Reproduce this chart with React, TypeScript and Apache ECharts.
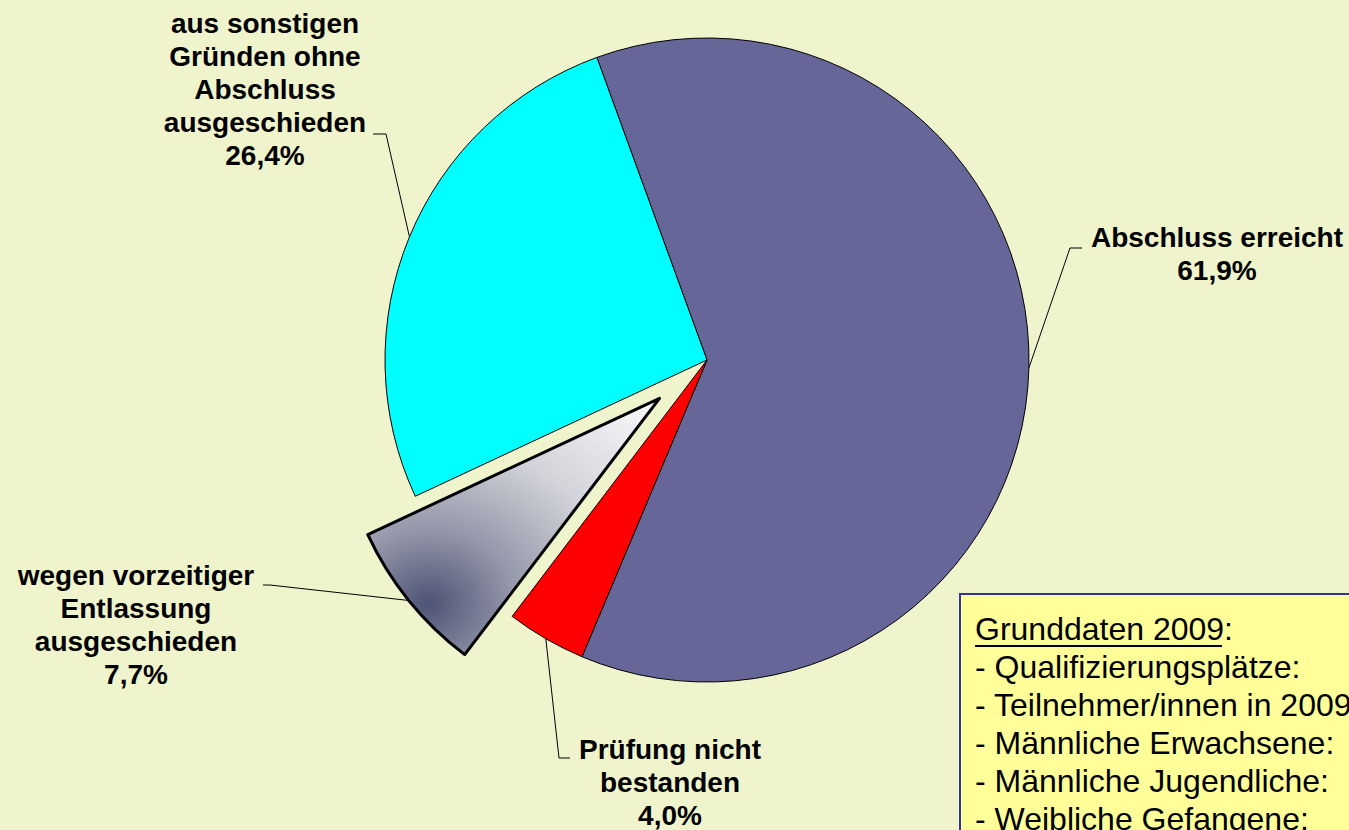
import React, { useEffect, useRef } from "react";
import * as echarts from "echarts";

// ---- data ----
const categories = [
  "Abschluss erreicht",
  "Prüfung nicht\nbestanden",
  "wegen vorzeitiger\nEntlassung\nausgeschieden",
  "aus sonstigen\nGründen ohne\nAbschluss\nausgeschieden",
];
const values = [61.9, 4.0, 7.7, 26.4];
const sliceColors = ["#666699", "#FF0000", "GRADIENT", "#00FFFF"];
const explodedIndex = 2;

const infoTitle = "Grunddaten 2009";
const infoLines = [
  "- Qualifizierungsplätze:",
  "- Teilnehmer/innen in 2009:",
  "- Männliche Erwachsene:",
  "- Männliche Jugendliche:",
  "- Weibliche Gefangene:",
];

// ---- layout ----
const CX = 707;
const CY = 360;
const R = 322;
const START = 110;
const OFFSET = 61;
const FONT = '"Liberation Sans", Arial, sans-serif';

// label anchor (block centre) and label-line bend/end points
const labelPlaces: { x: number; y: number; bend: number[]; end: number[] }[] = [
  { x: 1217, y: 254, bend: [1070, 248], end: [1082, 248] },
  { x: 670, y: 782, bend: [559, 758], end: [570, 758] },
  { x: 136, y: 625, bend: [270, 585], end: [263, 585] },
  { x: 265, y: 89, bend: [386, 134], end: [373, 134] },
];

function midAngles(): number[] {
  const total = values.reduce((a, b) => a + b, 0);
  let a = START;
  return values.map((v) => {
    const span = (v / total) * 360;
    const m = a - span / 2;
    a -= span;
    return m;
  });
}

export default function App() {
  const ref = useRef<HTMLDivElement>(null);
  useEffect(() => {
    if (!ref.current) return;
    const chart = echarts.init(ref.current, undefined, { renderer: "svg" });
    const mids = midAngles();
    const exRad = (mids[explodedIndex] * Math.PI) / 180;
    const ECX = CX + OFFSET * Math.cos(exRad);
    const ECY = CY - OFFSET * Math.sin(exRad);

    const grayFill = {
      type: "radial",
      x: 0.21,
      y: 0.8,
      r: 1.17,
      colorStops: [
        { offset: 0, color: "#4d5375" },
        { offset: 0.25, color: "#9598aa" },
        { offset: 0.55, color: "#d3d4da" },
        { offset: 1, color: "#ffffff" },
      ],
    };

    const hidden = {
      itemStyle: { color: "rgba(0,0,0,0)", borderWidth: 0 },
      label: { show: false },
      labelLine: { show: false },
      tooltip: { show: false },
    };

    // main pie: all slices except the exploded one (kept as invisible gap)
    const mainData = values.map((v, i) =>
      i === explodedIndex
        ? { name: "", value: v, ...hidden, idx: i }
        : {
            name: categories[i],
            value: v,
            idx: i,
            itemStyle: { color: sliceColors[i], borderColor: "#000", borderWidth: 1 },
          }
    );
    // exploded pie: only the exploded slice visible, others invisible placeholders
    const exData = values.map((v, i) =>
      i === explodedIndex
        ? {
            name: categories[i],
            value: v,
            idx: i,
            itemStyle: { color: grayFill as any, borderColor: "#000", borderWidth: 3 },
          }
        : { name: "", value: v, ...hidden, idx: i }
    );

    const labelCommon = {
      show: true,
      position: "outside",
      formatter: (p: any) =>
        categories[p.dataIndex] + "\n" + p.value.toFixed(1).replace(".", ",") + "%",
      fontFamily: FONT,
      fontWeight: "bold",
      fontSize: 28,
      lineHeight: 33,
      color: "#000",
      align: "center",
    };

    const makeLayout = (cx: number, cy: number) => (params: any) => {
      const i = params.dataIndex;
      const lp = labelPlaces[i];
      const rad = (mids[i] * Math.PI) / 180;
      const sx = cx + R * Math.cos(rad);
      const sy = cy - R * Math.sin(rad);
      return {
        x: lp.x,
        y: lp.y,
        align: "center",
        verticalAlign: "middle",
        labelLinePoints: [[sx, sy], lp.bend, lp.end],
      };
    };

    const pieCommon = {
      type: "pie",
      radius: R,
      startAngle: START,
      clockwise: true,
      avoidLabelOverlap: false,
      selectedMode: false,
      emphasis: { scale: false, disabled: true },
      label: labelCommon,
      labelLine: { show: true, lineStyle: { color: "#000", width: 1 } },
    };

    chart.setOption({
      animation: false,
      backgroundColor: "#EFF4CC",
      series: [
        {
          ...pieCommon,
          center: [CX, CY],
          labelLayout: makeLayout(CX, CY),
          data: mainData,
        },
        {
          ...pieCommon,
          center: [ECX, ECY],
          labelLayout: makeLayout(ECX, ECY),
          data: exData,
        },
      ],
      graphic: [
        {
          type: "rect",
          shape: { x: 960, y: 594, width: 450, height: 300 },
          style: { fill: "#FFFF99", stroke: "#333399", lineWidth: 2 },
        },
        {
          type: "text",
          x: 975,
          y: 610,
          style: {
            text: infoTitle + ":",
            fontFamily: FONT,
            fontSize: 32,
            lineHeight: 38,
            fill: "#000",
            verticalAlign: "top",
          },
        },
        {
          type: "line",
          shape: { x1: 975, y1: 646, x2: 1222, y2: 646 },
          style: { stroke: "#000", lineWidth: 2 },
        },
        {
          type: "text",
          x: 975,
          y: 648,
          style: {
            text: infoLines.join("\n"),
            fontFamily: FONT,
            fontSize: 32,
            lineHeight: 38,
            fill: "#000",
            verticalAlign: "top",
          },
        },
      ],
    });
    return () => chart.dispose();
  }, []);
  return (
    <div
      ref={ref}
      style={{ position: "absolute", left: 0, top: 0, width: 1349, height: 830 }}
    />
  );
}
